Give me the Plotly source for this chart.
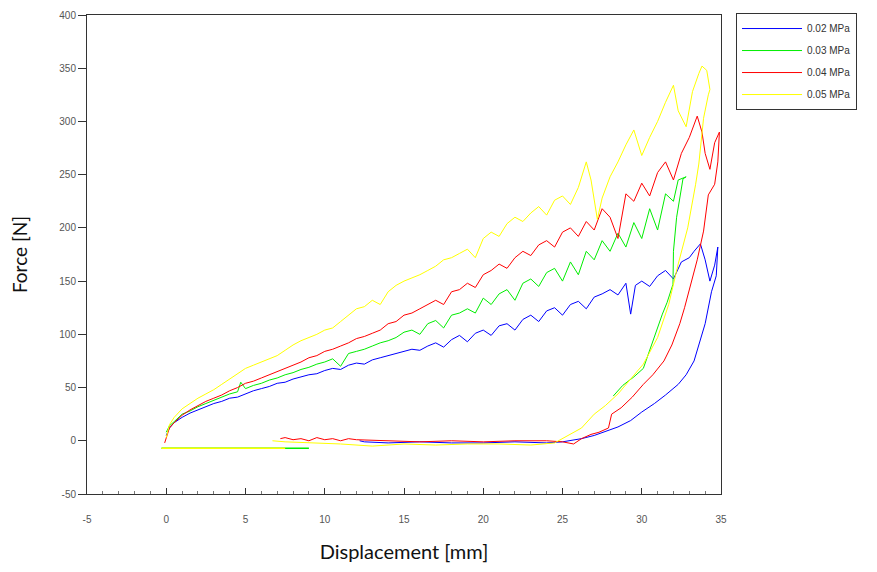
import plotly.graph_objects as go

# Displacement [mm], Force [N] pairs (loading, unloading, return)
blue_02 = [(0, 5), (0.2, 12), (0.5, 17), (1, 22), (1.5, 26), (2, 29), (2.5, 32), (3, 35), (3.5, 37), (4, 40),
           (4.5, 41), (5, 44), (5.5, 47), (6, 49), (6.5, 51), (7, 54), (7.5, 55), (8, 58), (8.5, 60), (9, 62),
           (9.5, 63), (10, 66), (10.5, 68), (11, 67), (11.5, 71), (12, 73), (12.5, 72), (13, 76), (13.5, 78),
           (14, 80), (14.5, 82), (15, 84), (15.5, 86), (16, 85), (16.5, 89), (17, 92), (17.5, 88), (18, 95),
           (18.5, 99), (19, 93), (19.5, 101), (20, 104), (20.5, 99), (21, 108), (21.5, 110), (22, 104),
           (22.5, 114), (23, 118), (23.5, 112), (24, 122), (24.5, 125), (25, 118), (25.5, 128), (26, 131),
           (26.5, 124), (27, 135), (27.5, 138), (28, 142), (28.5, 137), (29, 148), (29.3, 119), (29.6, 146),
           (30, 150), (30.5, 145), (31, 155), (31.5, 160), (32, 152), (32.5, 168), (33, 172), (33.3, 178),
           (33.7, 185), (34, 170), (34.3, 150), (34.6, 165), (34.8, 182),
           (34.7, 155), (34.4, 140), (34.0, 110), (33.7, 94), (33.3, 75), (32.8, 62), (32.3, 53), (31.5, 43),
           (30.8, 35), (30, 27), (29.3, 19), (28.5, 13), (27.8, 9), (27, 5), (26.2, 2), (25.5, 0), (25, -1),
           (24, -2), (22, -1), (20, -2), (18, -2), (16, -1), (14, -2), (12.5, -1), (12.2, 0)]

green_03 = [(0, 8), (0.2, 14), (0.5, 18), (1, 25), (1.5, 28), (2, 32), (2.5, 35), (3, 38), (3.5, 41), (4, 44),
            (4.5, 46), (4.7, 55), (5, 49), (5.5, 52), (6, 54), (6.5, 57), (7, 59), (7.5, 62), (8, 64), (8.5, 67),
            (9, 69), (9.5, 72), (10, 74), (10.5, 77), (11, 70), (11.5, 82), (12, 84), (12.5, 86), (13, 89),
            (13.5, 92), (14, 94), (14.5, 97), (15, 102), (15.5, 104), (16, 100), (16.5, 110), (17, 113),
            (17.5, 106), (18, 118), (18.5, 120), (19, 124), (19.5, 120), (20, 134), (20.5, 128), (21, 138),
            (21.5, 142), (22, 132), (22.5, 148), (23, 152), (23.5, 145), (24, 158), (24.5, 162), (25, 150),
            (25.5, 168), (26, 156), (26.5, 178), (27, 170), (27.5, 188), (28, 178), (28.5, 195), (29, 182),
            (29.5, 205), (30, 190), (30.5, 218), (31, 198), (31.5, 232), (32, 225), (32.3, 245), (32.8, 248),
            (32.6, 246), (32.2, 210), (32.0, 178), (31.97, 147), (31.6, 130), (31.3, 119), (30.8, 97),
            (30.4, 80), (30.1, 68), (29.5, 60), (28.8, 52), (28.2, 42)]

red_04 = [(-0.1, -2), (0, 3), (0.2, 12), (0.5, 17), (1, 24), (1.5, 29), (2, 33), (2.5, 37), (3, 40), (3.5, 43),
          (4, 47), (4.5, 50), (5, 54), (5.5, 56), (6, 59), (6.5, 62), (7, 65), (7.5, 68), (8, 71), (8.5, 74),
          (9, 78), (9.5, 80), (10, 84), (10.5, 86), (11, 89), (11.5, 92), (12, 96), (12.5, 98), (13, 101),
          (13.5, 104), (14, 110), (14.5, 112), (15, 118), (15.5, 120), (16, 124), (16.5, 128), (17, 132),
          (17.5, 128), (18, 140), (18.5, 142), (19, 148), (19.5, 144), (20, 156), (20.5, 160), (21, 166),
          (21.5, 162), (22, 172), (22.5, 178), (23, 174), (23.5, 184), (24, 188), (24.5, 182), (25, 196),
          (25.5, 200), (26, 192), (26.5, 206), (27, 198), (27.5, 218), (28, 210), (28.5, 190), (29, 232),
          (29.5, 225), (30, 242), (30.5, 230), (31, 252), (31.5, 262), (32, 245), (32.5, 270), (33, 285),
          (33.5, 305), (33.8, 290), (34, 270), (34.3, 255), (34.6, 280), (34.9, 290),
          (34.8, 262), (34.6, 241), (34.2, 231), (33.9, 197), (33.5, 170), (33.1, 147), (32.7, 125),
          (32.4, 110), (31.9, 90), (31.4, 75), (30.7, 62), (30.1, 53), (29.4, 41), (28.7, 31), (28.1, 25),
          (27.9, 12), (27.3, 8), (26.8, 6), (26.2, 2), (25.7, -3), (25, -1), (24, 0), (22, 0), (20, -1),
          (18, 0), (16, -1), (14, 0), (12, 1), (11.5, 2), (11, 0), (10.5, 2), (10, 1), (9.5, 3), (9, 0),
          (8.5, 2), (8, 1), (7.5, 3), (7.2, 2)]

yellow_05 = [(0, 3), (0.2, 15), (0.5, 22), (1, 30), (1.5, 35), (2, 40), (2.5, 44), (3, 48), (3.5, 53), (4, 58),
             (4.5, 63), (5, 68), (5.5, 71), (6, 74), (6.5, 77), (7, 80), (7.5, 85), (8, 90), (8.5, 94), (9, 97),
             (9.5, 100), (10, 104), (10.5, 106), (11, 112), (11.5, 118), (12, 124), (12.5, 126), (13, 132),
             (13.5, 128), (14, 140), (14.5, 146), (15, 150), (15.5, 153), (16, 156), (16.5, 160), (17, 164),
             (17.5, 170), (18, 172), (18.5, 176), (19, 180), (19.5, 172), (20, 190), (20.5, 196), (21, 192),
             (21.5, 204), (22, 210), (22.5, 206), (23, 214), (23.5, 220), (24, 212), (24.5, 226), (25, 230),
             (25.5, 222), (26, 238), (26.5, 262), (26.8, 245), (27.2, 208), (27.5, 228), (28, 248), (28.5, 262),
             (29, 278), (29.5, 292), (30, 268), (30.5, 285), (31, 300), (31.5, 318), (32, 334), (32.3, 310),
             (32.8, 295), (33.2, 328), (33.6, 345), (33.8, 352), (34.1, 348), (34.3, 330),
             (34.2, 325), (33.9, 303), (33.6, 260), (33.4, 241), (32.9, 200), (32.3, 166), (31.7, 128),
             (31.0, 97), (30.1, 72), (29.3, 58), (28.5, 44), (27.7, 33), (27.0, 25), (26.2, 12), (25.1, 3),
             (24.5, -2), (23, -4), (21, -3), (19, -3), (17, -4), (15, -3), (13, -5), (11, -3), (9, -2),
             (7.5, -1), (6.7, 0)]

# Offset baseline segments (Force ~ -7 N)
green_baseline = [(-0.3, -7), (9.0, -7)]
yellow_baseline = [(-0.3, -7), (7.5, -7)]

series_names = ["0.02 MPa", "0.03 MPa", "0.04 MPa", "0.05 MPa"]
series_data = [blue_02, green_03, red_04, yellow_05]
series_colors = ["#0000ff", "#00ee00", "#ff0000", "#ffff00"]

x_ticks = [-5, 0, 5, 10, 15, 20, 25, 30, 35]
y_ticks = [-50, 0, 50, 100, 150, 200, 250, 300, 350, 400]

fig = go.Figure()

for name, data, color in zip(series_names, series_data, series_colors):
    xs, ys = zip(*data)
    fig.add_trace(go.Scatter(x=list(xs), y=list(ys), mode="lines", name=name,
                             line=dict(color=color, width=1), legendgroup=name))

for data, color in [(green_baseline, series_colors[1]), (yellow_baseline, series_colors[3])]:
    xs, ys = zip(*data)
    fig.add_trace(go.Scatter(x=list(xs), y=list(ys), mode="lines", showlegend=False,
                             line=dict(color=color, width=1.5)))

axis_color = "#333333"
tick_font = dict(family="Liberation Sans, Arial", size=10, color="#555555")

fig.update_layout(
    width=870, height=565,
    margin=dict(l=79, r=157, t=6, b=79),
    paper_bgcolor="white", plot_bgcolor="white",
    showlegend=True,
    legend=dict(x=1.0237, y=1.002, xanchor="left", yanchor="top",
                bordercolor="#333333", borderwidth=1, bgcolor="white",
                font=dict(family="Liberation Sans, Arial", size=10, color="#333333"),
                itemwidth=60, tracegroupgap=3, entrywidth=70, entrywidthmode="pixels"),
)
fig.update_xaxes(range=[-5, 35], tickvals=x_ticks, ticktext=[str(v) for v in x_ticks],
                 automargin=False,
                 showgrid=False, zeroline=False, showline=True, mirror=True,
                 linecolor=axis_color, linewidth=1,
                 ticks="inside", ticklen=6, tickcolor=axis_color,
                 minor=dict(dtick=1, ticks="inside", ticklen=3, tickcolor="#777777"),
                 tickfont=tick_font, ticklabelstandoff=16,
                 title=dict(text="Displacement [mm]", standoff=20,
                            font=dict(family="Lato, Open Sans", size=20, color="#111111")))
fig.update_yaxes(range=[-50, 400], tickvals=y_ticks, ticktext=[str(v) for v in y_ticks],
                 automargin=False,
                 showgrid=False, zeroline=False, showline=True, mirror=True,
                 linecolor=axis_color, linewidth=1,
                 ticks="outside", ticklen=8, tickcolor=axis_color,
                 tickfont=tick_font,
                 title=dict(text="Force [N]", standoff=32,
                            font=dict(family="Lato, Open Sans", size=19, color="#111111")))

fig.write_html("out.html")
